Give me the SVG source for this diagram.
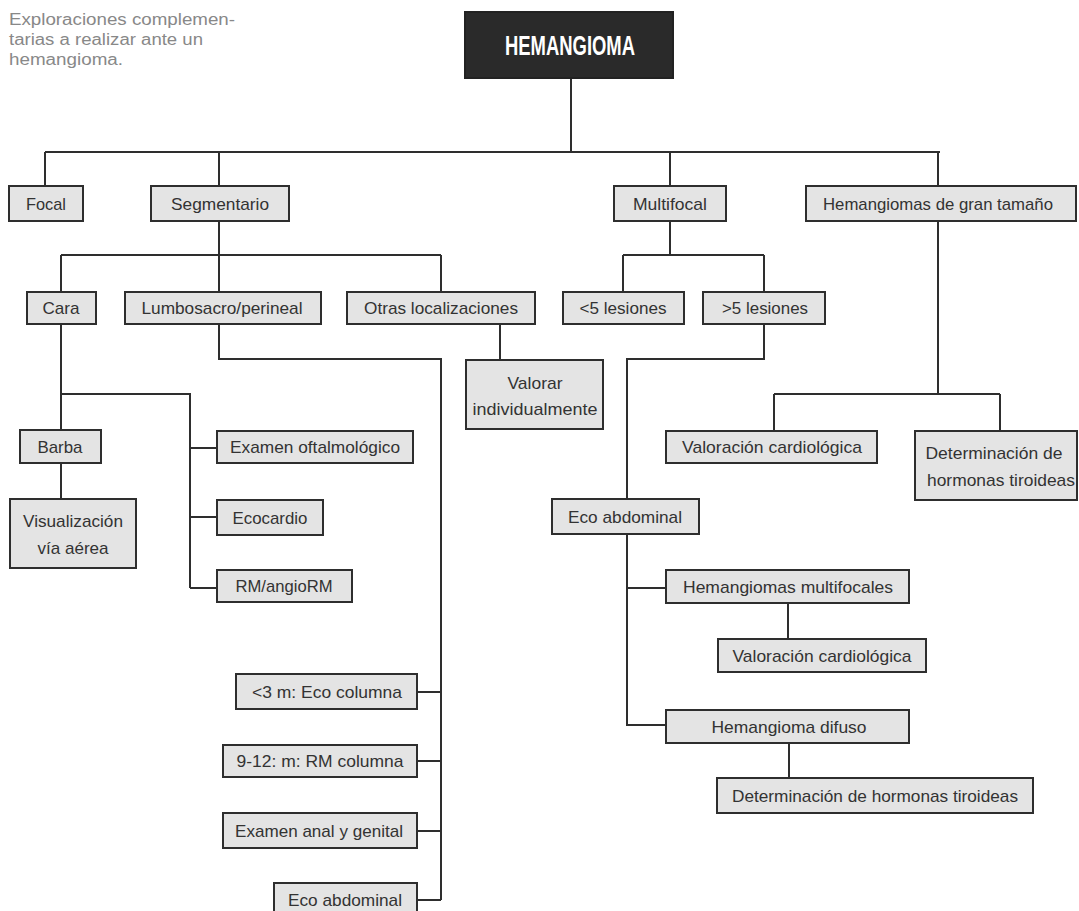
<svg xmlns="http://www.w3.org/2000/svg" width="1079" height="911" viewBox="0 0 1079 911">
<style>
.bx{fill:#e4e4e4;stroke:#2e2e2e;stroke-width:2}
.t{font-family:"Liberation Sans",Arial,sans-serif;font-size:17px;fill:#333;text-anchor:middle}
.cn{fill:none;stroke:#2e2e2e;stroke-width:2}
.cap{font-family:"Liberation Sans",Arial,sans-serif;font-size:16px;fill:#888}
</style>
<rect width="1079" height="911" fill="#fff"/>
<g id="caption">
<text class="cap" x="9" y="25" textLength="226" lengthAdjust="spacingAndGlyphs">Exploraciones complemen-</text>
<text class="cap" x="9" y="45" textLength="194" lengthAdjust="spacingAndGlyphs">tarias a realizar ante un</text>
<text class="cap" x="9" y="65" textLength="114" lengthAdjust="spacingAndGlyphs">hemangioma.</text>
</g>
<g id="connectors">
<path class="cn" d="M571,78 V152 M45,152 H940 M45,152 V186 M219,152 V186 M670,152 V186 M938,152 V186"/>
<path class="cn" d="M219,221 V292 M61,255 H441 M61,255 V292 M441,255 V292"/>
<path class="cn" d="M219,324 V359 H441 V900 M417,692 H441 M417,761 H441 M417,831 H441 M417,900 H441"/>
<path class="cn" d="M500,324 V360"/>
<path class="cn" d="M61,324 V430 M61,394 H190 V588 M190,448 H217 M190,517 H217 M190,588 H217 M61,463 V499"/>
<path class="cn" d="M670,221 V255 M623,255 H764 M623,255 V292 M764,255 V292"/>
<path class="cn" d="M764,324 V359 H627 V499 M627,534 V725 H666 M627,588 H666 M788,603 V639 M789,743 V778"/>
<path class="cn" d="M938,221 V394 M774,394 H1000 M774,394 V431 M1000,394 V431"/>
</g>
<g id="n-hemangioma">
<rect x="465" y="12" width="208" height="66" fill="#2a2a2a" stroke="#222" stroke-width="2"/>
<text x="570" y="55" font-family="'Liberation Sans',Arial,sans-serif" font-weight="bold" font-size="27" fill="#fff" text-anchor="middle" textLength="130" lengthAdjust="spacingAndGlyphs">HEMANGIOMA</text>
</g>
<g id="n-focal"><rect class="bx" x="9" y="186" width="74" height="35"/><text class="t" x="46" y="210" textLength="40" lengthAdjust="spacingAndGlyphs">Focal</text></g>
<g id="n-segmentario"><rect class="bx" x="151" y="186" width="138" height="35"/><text class="t" x="220" y="210" textLength="98" lengthAdjust="spacingAndGlyphs">Segmentario</text></g>
<g id="n-multifocal"><rect class="bx" x="614" y="186" width="112" height="35"/><text class="t" x="670" y="210" textLength="74" lengthAdjust="spacingAndGlyphs">Multifocal</text></g>
<g id="n-grantamano"><rect class="bx" x="806" y="186" width="270" height="35"/><text class="t" x="938" y="210" textLength="230" lengthAdjust="spacingAndGlyphs">Hemangiomas de gran tamaño</text></g>
<g id="n-cara"><rect class="bx" x="27" y="292" width="69" height="32"/><text class="t" x="61" y="314" textLength="37" lengthAdjust="spacingAndGlyphs">Cara</text></g>
<g id="n-lumbosacro"><rect class="bx" x="125" y="292" width="196" height="32"/><text class="t" x="222" y="314" textLength="161" lengthAdjust="spacingAndGlyphs">Lumbosacro/perineal</text></g>
<g id="n-otras"><rect class="bx" x="347" y="292" width="188" height="32"/><text class="t" x="441" y="314" textLength="154" lengthAdjust="spacingAndGlyphs">Otras localizaciones</text></g>
<g id="n-menos5"><rect class="bx" x="563" y="292" width="121" height="32"/><text class="t" x="623" y="314" textLength="87" lengthAdjust="spacingAndGlyphs">&lt;5 lesiones</text></g>
<g id="n-mas5"><rect class="bx" x="703" y="292" width="122" height="32"/><text class="t" x="765" y="314" textLength="86" lengthAdjust="spacingAndGlyphs">&gt;5 lesiones</text></g>
<g id="n-valorar"><rect class="bx" x="466" y="360" width="137" height="69"/><text class="t" x="535" y="389" textLength="55" lengthAdjust="spacingAndGlyphs">Valorar</text><text class="t" x="535" y="415" textLength="125" lengthAdjust="spacingAndGlyphs">individualmente</text></g>
<g id="n-valcard1"><rect class="bx" x="666" y="431" width="211" height="32"/><text class="t" x="772" y="453" textLength="180" lengthAdjust="spacingAndGlyphs">Valoración cardiológica</text></g>
<g id="n-hormonas1"><rect class="bx" x="915" y="431" width="162" height="69"/><text class="t" x="994" y="459" textLength="137" lengthAdjust="spacingAndGlyphs">Determinación de</text><text class="t" x="1001" y="486" textLength="148" lengthAdjust="spacingAndGlyphs">hormonas tiroideas</text></g>
<g id="n-barba"><rect class="bx" x="20" y="430" width="81" height="33"/><text class="t" x="60" y="453" textLength="45" lengthAdjust="spacingAndGlyphs">Barba</text></g>
<g id="n-visualizacion"><rect class="bx" x="10" y="499" width="126" height="69"/><text class="t" x="73" y="527" textLength="100" lengthAdjust="spacingAndGlyphs">Visualización</text><text class="t" x="73" y="554" textLength="71" lengthAdjust="spacingAndGlyphs">vía aérea</text></g>
<g id="n-oftalmo"><rect class="bx" x="217" y="431" width="196" height="32"/><text class="t" x="315" y="453" textLength="170" lengthAdjust="spacingAndGlyphs">Examen oftalmológico</text></g>
<g id="n-ecocardio"><rect class="bx" x="217" y="500" width="106" height="35"/><text class="t" x="270" y="524" textLength="75" lengthAdjust="spacingAndGlyphs">Ecocardio</text></g>
<g id="n-rm"><rect class="bx" x="217" y="570" width="135" height="32"/><text class="t" x="284" y="592" textLength="97" lengthAdjust="spacingAndGlyphs">RM/angioRM</text></g>
<g id="n-ecoabd1"><rect class="bx" x="552" y="499" width="147" height="35"/><text class="t" x="625" y="523" textLength="114" lengthAdjust="spacingAndGlyphs">Eco abdominal</text></g>
<g id="n-hmultif"><rect class="bx" x="666" y="570" width="243" height="33"/><text class="t" x="788" y="593" textLength="210" lengthAdjust="spacingAndGlyphs">Hemangiomas multifocales</text></g>
<g id="n-valcard2"><rect class="bx" x="718" y="639" width="208" height="33"/><text class="t" x="822" y="662" textLength="179" lengthAdjust="spacingAndGlyphs">Valoración cardiológica</text></g>
<g id="n-difuso"><rect class="bx" x="666" y="710" width="243" height="33"/><text class="t" x="789" y="733" textLength="155" lengthAdjust="spacingAndGlyphs">Hemangioma difuso</text></g>
<g id="n-hormonas2"><rect class="bx" x="717" y="778" width="316" height="35"/><text class="t" x="875" y="802" textLength="286" lengthAdjust="spacingAndGlyphs">Determinación de hormonas tiroideas</text></g>
<g id="n-eco3m"><rect class="bx" x="236" y="674" width="181" height="35"/><text class="t" x="327" y="698" textLength="150" lengthAdjust="spacingAndGlyphs">&lt;3 m: Eco columna</text></g>
<g id="n-rm912"><rect class="bx" x="223" y="745" width="194" height="32"/><text class="t" x="320" y="767" textLength="167" lengthAdjust="spacingAndGlyphs">9-12: m: RM columna</text></g>
<g id="n-anal"><rect class="bx" x="223" y="813" width="194" height="35"/><text class="t" x="319" y="837" textLength="168" lengthAdjust="spacingAndGlyphs">Examen anal y genital</text></g>
<g id="n-ecoabd2"><rect class="bx" x="274" y="883" width="143" height="35"/><text class="t" x="345" y="906" textLength="114" lengthAdjust="spacingAndGlyphs">Eco abdominal</text></g>
</svg>
